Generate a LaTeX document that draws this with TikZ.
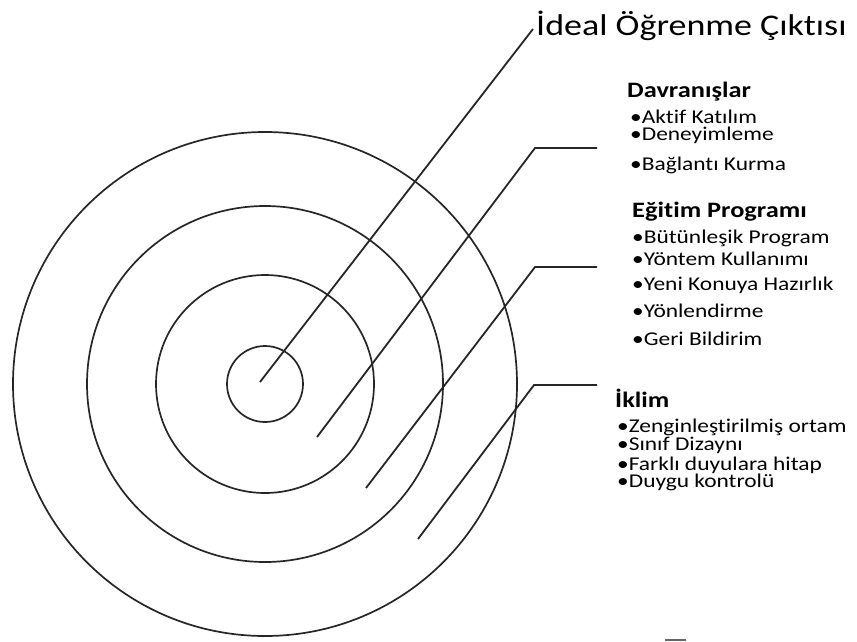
\documentclass[tikz,border=0pt]{standalone}
\usepackage{fontspec}
\setmainfont{Carlito}[FakeStretch=1.2,Ligatures=NoCommon]
\begin{document}
\begin{tikzpicture}[x=1pt,y=-1pt,
  ring/.style={draw=black!85,line width=1.7pt},
  leader/.style={draw=black!85,line width=1.8pt,line join=miter},
  title/.style={anchor=base west,inner sep=0pt,font=\fontsize{30}{30}\selectfont},
  head/.style={anchor=base west,inner sep=0pt,font=\fontsize{22}{22}\selectfont\bfseries},
  item/.style={anchor=base west,inner sep=0pt,font=\fontsize{19.5}{19.5}\selectfont}]
\useasboundingbox (0,0) rectangle (857,641);
\coordinate (c) at (265,384);
\draw[ring] (c) circle[radius=38];
\draw[ring] (c) circle[radius=109];
\draw[ring] (c) circle[radius=178];
\draw[ring] (c) circle[radius=252];
% leaders
\coordinate (s1) at (260,382);
\coordinate (e1) at (533,29);
\coordinate (s2) at (317,437);
\coordinate (b2) at (535,148);
\coordinate (e2) at (597,148);
\coordinate (s3) at (366,488);
\coordinate (b3) at (535,267);
\coordinate (e3) at (597,267);
\coordinate (s4) at (418,539);
\coordinate (b4) at (534,385);
\coordinate (e4) at (597,385);
\draw[leader] (s1) -- (e1);
\draw[leader] (s2) -- (b2) -- (e2);
\draw[leader] (s3) -- (b3) -- (e3);
\draw[leader] (s4) -- (b4) -- (e4);
% texts
\node[title] (t) at (536,35) {İdeal Öğrenme Çıktısı};
\node[head] (h1) at (627,97) {Davranışlar};
\node[item] (a1) at (630,123) {•Aktif Katılım};
\node[item] (a2) at (630,140) {•Deneyimleme};
\node[item] (a3) at (630,170) {•Bağlantı Kurma};
\node[head] (h2) at (632,217) {Eğitim Programı};
\node[item] (b1x) at (632,243) {•Bütünleşik Program};
\node[item] (b2x) at (632,265) {•Yöntem Kullanımı};
\node[item] (b3x) at (632,290) {•Yeni Konuya Hazırlık};
\node[item] (b4x) at (632,317) {•Yönlendirme};
\node[item] (b5x) at (632,345) {•Geri Bildirim};
\node[head] (h3) at (615,407) {İklim};
\node[item] (c1) at (617,432) {•Zenginleştirilmiş ortam};
\node[item] (c2) at (617,450) {•Sınıf Dizaynı};
\node[item] (c3) at (617,470) {•Farklı duyulara hitap};
\node[item] (c4) at (617,487) {•Duygu kontrolü};
\coordinate (f1) at (665,640);
\coordinate (f2) at (686,640);
\draw[black!60,line width=1.5pt] (f1) -- (f2);
\end{tikzpicture}
\end{document}
